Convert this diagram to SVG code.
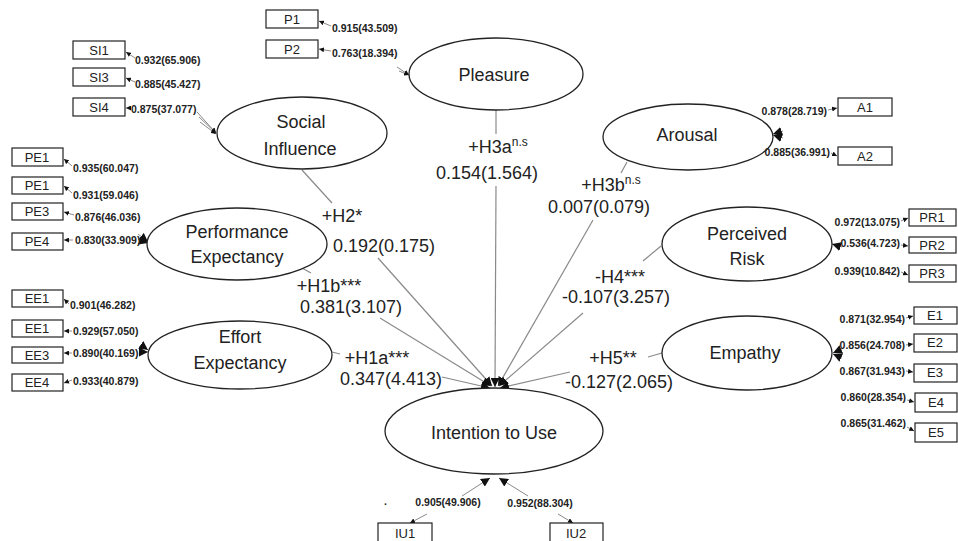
<svg xmlns="http://www.w3.org/2000/svg" width="958" height="541" viewBox="0 0 958 541">
<style>
.bg{fill:#fff}
.lat{fill:#fff;stroke:#222;stroke-width:1.3}
.box{fill:#fff;stroke:#222;stroke-width:1.2}
.nt{font-family:"Liberation Sans",Arial,sans-serif;font-size:18px;fill:#222;text-anchor:middle}
.bt{font-family:"Liberation Sans",Arial,sans-serif;font-size:13px;fill:#222;text-anchor:middle}
.pl{font-family:"Liberation Sans",Arial,sans-serif;font-size:18px;fill:#222;text-anchor:middle}
.sl{font-family:"Liberation Sans",Arial,sans-serif;font-size:10.5px;font-weight:bold;fill:#222}
.sup{font-size:12px}
.path{stroke:#8a8a8a;stroke-width:1.2;fill:none}
.ld{stroke:#8a8a8a;stroke-width:1;fill:none}
.big{marker-end:url(#bh)}
.sm{marker-end:url(#sh)}
</style>
<defs>
<marker id="bh" viewBox="0 0 10 10" refX="10" refY="5" markerWidth="9" markerHeight="9" markerUnits="userSpaceOnUse" orient="auto"><path d="M0,0 L10,5 L0,10 z" fill="#111"/></marker>
<marker id="sh" viewBox="0 0 10 10" refX="10" refY="5" markerWidth="5" markerHeight="5" markerUnits="userSpaceOnUse" orient="auto"><path d="M0,0 L10,5 L0,10 z" fill="#111"/></marker>
</defs>
<rect class="bg" x="0" y="0" width="958" height="541"/>

<g id="connectors">
  <line class="path" x1="496" y1="110" x2="496" y2="134"/>
  <line class="path big" x1="496" y1="186" x2="495" y2="387"/>
  <line class="path" x1="302" y1="170" x2="332" y2="203"/>
  <line class="path big" x1="378" y1="258" x2="492" y2="386"/>
  <line class="path" x1="302" y1="268" x2="311" y2="273"/>
  <line class="path big" x1="380" y1="318" x2="491" y2="386"/>
  <line class="path" x1="332" y1="352" x2="340" y2="354"/>
  <line class="path big" x1="442" y1="377" x2="490" y2="388"/>
  <line class="path" x1="627" y1="162" x2="621" y2="173"/>
  <line class="path big" x1="593" y1="220" x2="498" y2="386"/>
  <line class="path" x1="661" y1="246" x2="643" y2="261"/>
  <line class="path big" x1="583" y1="313" x2="499" y2="386"/>
  <line class="path" x1="662" y1="353" x2="648" y2="357"/>
  <line class="path big" x1="570" y1="372" x2="500" y2="388"/>
  <line class="ld big" x1="462" y1="496" x2="490" y2="478"/>
  <line class="ld sm" x1="427" y1="514" x2="410" y2="523"/>
  <line class="ld big" x1="528" y1="496" x2="499" y2="478"/>
  <line class="ld sm" x1="558" y1="514" x2="573" y2="523"/>
  <line class="ld sm" x1="135" y1="58" x2="126" y2="52"/>
  <line class="ld sm" x1="135" y1="82" x2="126" y2="78"/>
  <line class="ld sm" x1="130" y1="108" x2="126" y2="108"/>
  <line class="ld sm" x1="197" y1="112" x2="216" y2="133"/>
  <line class="ld sm" x1="199" y1="117" x2="216" y2="133"/>
  <line class="ld sm" x1="200" y1="122" x2="216" y2="134"/>
  <line class="ld sm" x1="331" y1="26" x2="319" y2="21"/>
  <line class="ld sm" x1="331" y1="51" x2="319" y2="49"/>
  <line class="ld sm" x1="397" y1="67" x2="409" y2="75"/>
  <line class="ld sm" x1="399" y1="71" x2="409" y2="75"/>
  <line class="ld sm" x1="72" y1="166" x2="64" y2="159"/>
  <line class="ld sm" x1="72" y1="193" x2="64" y2="186"/>
  <line class="ld sm" x1="74" y1="215" x2="64" y2="212"/>
  <line class="ld sm" x1="73" y1="240" x2="64" y2="240"/>
  <line class="ld big" x1="138" y1="234" x2="148" y2="242"/>
  <line class="ld big" x1="139" y1="240" x2="148" y2="243"/>
  <line class="ld sm" x1="69" y1="304" x2="64" y2="299"/>
  <line class="ld sm" x1="72" y1="331" x2="64" y2="331"/>
  <line class="ld sm" x1="72" y1="353" x2="64" y2="353"/>
  <line class="ld sm" x1="72" y1="380" x2="64" y2="383"/>
  <line class="ld big" x1="141" y1="345" x2="148" y2="350"/>
  <line class="ld big" x1="142" y1="352" x2="148" y2="352"/>
  <line class="ld sm" x1="828" y1="110" x2="837" y2="108"/>
  <line class="ld sm" x1="831" y1="153" x2="837" y2="156"/>
  <line class="ld big" x1="783" y1="131" x2="773" y2="134"/>
  <line class="ld big" x1="783" y1="138" x2="773" y2="135"/>
  <line class="ld sm" x1="901" y1="221" x2="908" y2="218"/>
  <line class="ld sm" x1="901" y1="245" x2="908" y2="246"/>
  <line class="ld sm" x1="901" y1="272" x2="908" y2="275"/>
  <line class="ld big" x1="842" y1="247" x2="832" y2="244"/>
  <line class="ld sm" x1="906" y1="318" x2="913" y2="316"/>
  <line class="ld sm" x1="906" y1="345" x2="913" y2="344"/>
  <line class="ld sm" x1="906" y1="371" x2="913" y2="372"/>
  <line class="ld sm" x1="907" y1="400" x2="914" y2="402"/>
  <line class="ld sm" x1="907" y1="427" x2="914" y2="431"/>
  <line class="ld big" x1="842" y1="349" x2="833" y2="353"/>
  <line class="ld big" x1="842" y1="358" x2="833" y2="354"/>
</g>

<g id="path-labels">
  <text class="pl" x="498" y="153">+H3a<tspan class="sup" dy="-7">n.s</tspan></text>
  <text class="pl" x="487" y="179">0.154(1.564)</text>
  <text class="pl" x="342" y="222">+H2*</text>
  <text class="pl" x="384" y="252">0.192(0.175)</text>
  <text class="pl" x="329" y="292">+H1b***</text>
  <text class="pl" x="351" y="313">0.381(3.107)</text>
  <text class="pl" x="377" y="364">+H1a***</text>
  <text class="pl" x="391" y="385">0.347(4.413)</text>
  <text class="pl" x="611" y="191">+H3b<tspan class="sup" dy="-7">n.s</tspan></text>
  <text class="pl" x="599" y="213">0.007(0.079)</text>
  <text class="pl" x="620" y="283">-H4***</text>
  <text class="pl" x="616" y="303">-0.107(3.257)</text>
  <text class="pl" x="613" y="364">+H5**</text>
  <text class="pl" x="619" y="388">-0.127(2.065)</text>
</g>

<g id="pleasure">
  <ellipse class="lat" cx="496" cy="74" rx="87" ry="36"/>
  <text class="nt" x="494" y="81">Pleasure</text>
  <rect class="box" x="266" y="10" width="52" height="18"/><text class="bt" x="292" y="24">P1</text>
  <rect class="box" x="266" y="40" width="52" height="18"/><text class="bt" x="292" y="54">P2</text>
  <text class="sl" x="332" y="32">0.915(43.509)</text>
  <text class="sl" x="332" y="57">0.763(18.394)</text>
</g>

<g id="social-influence">
  <ellipse class="lat" cx="302" cy="133" rx="85" ry="36"/>
  <text class="nt" x="301" y="128">Social</text>
  <text class="nt" x="300" y="155">Influence</text>
  <rect class="box" x="73" y="41" width="52" height="18"/><text class="bt" x="99" y="55">SI1</text>
  <rect class="box" x="73" y="68" width="52" height="18"/><text class="bt" x="99" y="82">SI3</text>
  <rect class="box" x="73" y="98" width="52" height="18"/><text class="bt" x="99" y="112">SI4</text>
  <text class="sl" x="135" y="64">0.932(65.906)</text>
  <text class="sl" x="135" y="88">0.885(45.427)</text>
  <text class="sl" x="131" y="113">0.875(37.077)</text>
</g>

<g id="performance-expectancy">
  <ellipse class="lat" cx="237" cy="244" rx="90" ry="36"/>
  <text class="nt" x="237" y="238">Performance</text>
  <text class="nt" x="237" y="263">Expectancy</text>
  <rect class="box" x="12" y="148" width="51" height="18"/><text class="bt" x="37" y="162">PE1</text>
  <rect class="box" x="12" y="177" width="51" height="17"/><text class="bt" x="37" y="190">PE1</text>
  <rect class="box" x="12" y="203" width="51" height="17"/><text class="bt" x="37" y="216">PE3</text>
  <rect class="box" x="12" y="233" width="51" height="17"/><text class="bt" x="37" y="246">PE4</text>
  <text class="sl" x="73" y="172">0.935(60.047)</text>
  <text class="sl" x="73" y="199">0.931(59.046)</text>
  <text class="sl" x="75" y="221">0.876(46.036)</text>
  <text class="sl" x="75" y="244">0.830(33.909)</text>
</g>

<g id="effort-expectancy">
  <ellipse class="lat" cx="240" cy="355" rx="92" ry="34"/>
  <text class="nt" x="240" y="343">Effort</text>
  <text class="nt" x="240" y="369">Expectancy</text>
  <rect class="box" x="12" y="290" width="51" height="17"/><text class="bt" x="37" y="303">EE1</text>
  <rect class="box" x="12" y="320" width="51" height="17"/><text class="bt" x="37" y="333">EE1</text>
  <rect class="box" x="12" y="347" width="51" height="16"/><text class="bt" x="37" y="360">EE3</text>
  <rect class="box" x="12" y="374" width="51" height="17"/><text class="bt" x="37" y="387">EE4</text>
  <text class="sl" x="70" y="309">0.901(46.282)</text>
  <text class="sl" x="73" y="335">0.929(57.050)</text>
  <text class="sl" x="73" y="357">0.890(40.169)</text>
  <text class="sl" x="73" y="385">0.933(40.879)</text>
</g>

<g id="arousal">
  <ellipse class="lat" cx="688" cy="137" rx="85" ry="33"/>
  <text class="nt" x="687" y="141">Arousal</text>
  <rect class="box" x="838" y="98" width="54" height="18"/><text class="bt" x="865" y="112">A1</text>
  <rect class="box" x="838" y="147" width="54" height="18"/><text class="bt" x="865" y="161">A2</text>
  <text class="sl" x="827" y="115" text-anchor="end">0.878(28.719)</text>
  <text class="sl" x="830" y="156" text-anchor="end">0.885(36.991)</text>
</g>

<g id="perceived-risk">
  <ellipse class="lat" cx="747" cy="244" rx="85" ry="37"/>
  <text class="nt" x="747" y="240">Perceived</text>
  <text class="nt" x="747" y="265">Risk</text>
  <rect class="box" x="909" y="209" width="47" height="17"/><text class="bt" x="932" y="222">PR1</text>
  <rect class="box" x="909" y="237" width="47" height="16"/><text class="bt" x="932" y="250">PR2</text>
  <rect class="box" x="909" y="265" width="47" height="17"/><text class="bt" x="932" y="278">PR3</text>
  <text class="sl" x="900" y="226" text-anchor="end">0.972(13.075)</text>
  <text class="sl" x="900" y="247" text-anchor="end">0.536(4.723)</text>
  <text class="sl" x="900" y="275" text-anchor="end">0.939(10.842)</text>
</g>

<g id="empathy">
  <ellipse class="lat" cx="747" cy="353" rx="85" ry="37"/>
  <text class="nt" x="745" y="359">Empathy</text>
  <rect class="box" x="914" y="307" width="43" height="17"/><text class="bt" x="935" y="320">E1</text>
  <rect class="box" x="914" y="334" width="43" height="18"/><text class="bt" x="935" y="347">E2</text>
  <rect class="box" x="914" y="364" width="43" height="18"/><text class="bt" x="935" y="377">E3</text>
  <rect class="box" x="915" y="393" width="42" height="19"/><text class="bt" x="936" y="407">E4</text>
  <rect class="box" x="915" y="423" width="42" height="19"/><text class="bt" x="936" y="437">E5</text>
  <text class="sl" x="905" y="323" text-anchor="end">0.871(32.954)</text>
  <text class="sl" x="905" y="349" text-anchor="end">0.856(24.708)</text>
  <text class="sl" x="905" y="375" text-anchor="end">0.867(31.943)</text>
  <text class="sl" x="906" y="401" text-anchor="end">0.860(28.354)</text>
  <text class="sl" x="906" y="427" text-anchor="end">0.865(31.462)</text>
</g>

<g id="intention-to-use">
  <ellipse class="lat" cx="494" cy="431" rx="109" ry="43"/>
  <text class="nt" x="494" y="439">Intention to Use</text>
  <rect class="box" x="378" y="523" width="54" height="22"/><text class="bt" x="405" y="538">IU1</text>
  <rect class="box" x="550" y="523" width="53" height="22"/><text class="bt" x="576" y="538">IU2</text>
  <text class="sl" x="448" y="506" text-anchor="middle">0.905(49.906)</text>
  <text class="sl" x="540" y="507" text-anchor="middle">0.952(88.304)</text>
  <text class="sl" x="384" y="505">.</text>
</g>
</svg>
